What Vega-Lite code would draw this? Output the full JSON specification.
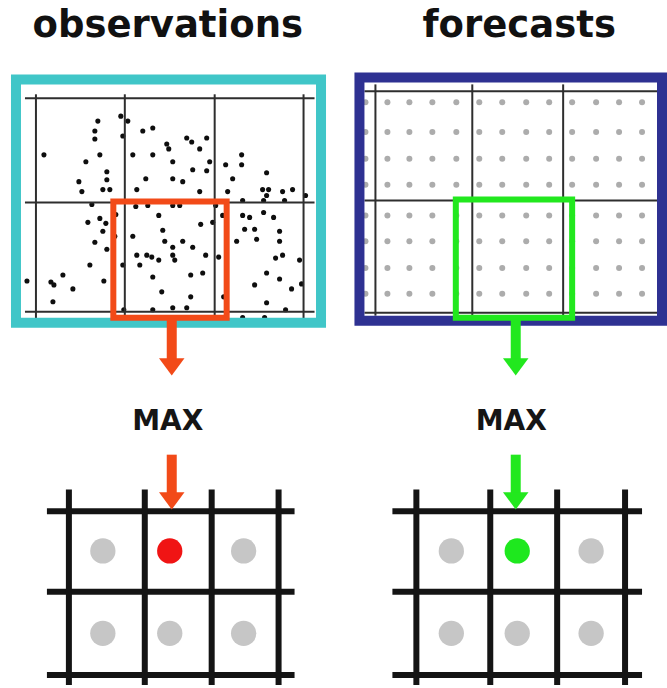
{
  "$schema": "https://vega.github.io/schema/vega-lite/v6.json",
  "width": 667,
  "height": 688,
  "autosize": {"type": "fit", "contains": "padding"},
  "padding": 0,
  "background": "white",
  "config": {"view": {"stroke": null}},
  "datasets": {
    "fcdots": [
      {"x":366,"y":103},{"x":388,"y":103},{"x":410,"y":103},{"x":433,"y":103},{"x":457,"y":103},{"x":480,"y":103},{"x":503,"y":103},{"x":527,"y":103},{"x":550,"y":103},{"x":573,"y":103},{"x":597,"y":103},{"x":620,"y":103},{"x":643,"y":103},
      {"x":366,"y":133},{"x":388,"y":133},{"x":410,"y":133},{"x":433,"y":133},{"x":457,"y":133},{"x":480,"y":133},{"x":503,"y":133},{"x":527,"y":133},{"x":550,"y":133},{"x":573,"y":133},{"x":597,"y":133},{"x":620,"y":133},{"x":643,"y":133},
      {"x":366,"y":160},{"x":388,"y":160},{"x":410,"y":160},{"x":433,"y":160},{"x":457,"y":160},{"x":480,"y":160},{"x":503,"y":160},{"x":527,"y":160},{"x":550,"y":160},{"x":573,"y":160},{"x":597,"y":160},{"x":620,"y":160},{"x":643,"y":160},
      {"x":366,"y":186},{"x":388,"y":186},{"x":410,"y":186},{"x":433,"y":186},{"x":457,"y":186},{"x":480,"y":186},{"x":503,"y":186},{"x":527,"y":186},{"x":550,"y":186},{"x":573,"y":186},{"x":597,"y":186},{"x":620,"y":186},{"x":643,"y":186},
      {"x":366,"y":217},{"x":388,"y":217},{"x":410,"y":217},{"x":433,"y":217},{"x":457,"y":217},{"x":480,"y":217},{"x":503,"y":217},{"x":527,"y":217},{"x":550,"y":217},{"x":573,"y":217},{"x":597,"y":217},{"x":620,"y":217},{"x":643,"y":217},
      {"x":366,"y":243},{"x":388,"y":243},{"x":410,"y":243},{"x":433,"y":243},{"x":457,"y":243},{"x":480,"y":243},{"x":503,"y":243},{"x":527,"y":243},{"x":550,"y":243},{"x":573,"y":243},{"x":597,"y":243},{"x":620,"y":243},{"x":643,"y":243},
      {"x":366,"y":270},{"x":388,"y":270},{"x":410,"y":270},{"x":433,"y":270},{"x":457,"y":270},{"x":480,"y":270},{"x":503,"y":270},{"x":527,"y":270},{"x":550,"y":270},{"x":573,"y":270},{"x":597,"y":270},{"x":620,"y":270},{"x":643,"y":270},
      {"x":366,"y":296},{"x":388,"y":296},{"x":410,"y":296},{"x":433,"y":296},{"x":457,"y":296},{"x":480,"y":296},{"x":503,"y":296},{"x":527,"y":296},{"x":550,"y":296},{"x":573,"y":296},{"x":597,"y":296},{"x":620,"y":296},{"x":643,"y":296}
    ],
    "obsdots": [
      {"x":44,"y":156},{"x":98,"y":122},{"x":95,"y":132},{"x":95,"y":140},{"x":100,"y":156},{"x":86,"y":163},{"x":107,"y":173},{"x":79,"y":183},{"x":107,"y":181},{"x":82,"y":193},{"x":103,"y":191},{"x":110,"y":191},{"x":121,"y":117},{"x":123,"y":137},{"x":92,"y":206},
      {"x":128,"y":122},{"x":143,"y":132},{"x":153,"y":129},{"x":133,"y":156},{"x":153,"y":156},{"x":167,"y":145},{"x":169,"y":150},{"x":173,"y":163},{"x":187,"y":139},{"x":192,"y":143},{"x":200,"y":150},{"x":207,"y":139},{"x":210,"y":163},{"x":193,"y":171},{"x":207,"y":172},{"x":146,"y":180},{"x":173,"y":180},{"x":183,"y":183},{"x":137,"y":191},{"x":200,"y":193},
      {"x":226,"y":166},{"x":242,"y":156},{"x":242,"y":166},{"x":233,"y":180},{"x":267,"y":174},{"x":228,"y":193},{"x":263,"y":191},{"x":269,"y":191},{"x":267,"y":197},{"x":283,"y":193},{"x":293,"y":191},{"x":243,"y":202},{"x":264,"y":202},{"x":285,"y":202},{"x":306,"y":197},
      {"x":27,"y":283},{"x":51,"y":284},{"x":54,"y":287},{"x":63,"y":277},{"x":73,"y":291},{"x":53,"y":304},{"x":90,"y":267},{"x":104,"y":283},{"x":88,"y":224},{"x":100,"y":220},{"x":106,"y":225},{"x":103,"y":233},{"x":95,"y":244},{"x":107,"y":251},{"x":123,"y":267},{"x":116,"y":216},{"x":115,"y":238},
      {"x":136,"y":208},{"x":148,"y":207},{"x":173,"y":207},{"x":180,"y":207},{"x":159,"y":217},{"x":133,"y":238},{"x":163,"y":232},{"x":165,"y":243},{"x":173,"y":249},{"x":183,"y":243},{"x":193,"y":249},{"x":137,"y":257},{"x":147,"y":257},{"x":152,"y":259},{"x":159,"y":262},{"x":140,"y":267},{"x":173,"y":257},{"x":175,"y":262},{"x":206,"y":257},{"x":201,"y":226},{"x":213,"y":224},{"x":153,"y":279},{"x":191,"y":277},{"x":203,"y":275},{"x":162,"y":294},{"x":191,"y":299},{"x":153,"y":312},{"x":173,"y":310},{"x":187,"y":310},{"x":219,"y":259},{"x":216,"y":207},{"x":124,"y":312},{"x":223,"y":217},{"x":224,"y":299},
      {"x":243,"y":217},{"x":250,"y":219},{"x":264,"y":214},{"x":274,"y":219},{"x":245,"y":231},{"x":255,"y":231},{"x":280,"y":233},{"x":257,"y":241},{"x":280,"y":243},{"x":237,"y":243},{"x":276,"y":260},{"x":283,"y":257},{"x":300,"y":262},{"x":267,"y":275},{"x":280,"y":281},{"x":255,"y":287},{"x":292,"y":291},{"x":302,"y":286},{"x":267,"y":305},{"x":286,"y":312},{"x":243,"y":320},{"x":265,"y":320}
    ],
    "thinlines": [
      {"x":25,"x2":315,"y":99,"y2":99},{"x":25,"x2":315,"y":204,"y2":204},{"x":25,"x2":315,"y":314,"y2":314},
      {"x":36,"x2":36,"y":95,"y2":321},{"x":125,"x2":125,"y":95,"y2":321},{"x":215,"x2":215,"y":95,"y2":321},{"x":304,"x2":304,"y":95,"y2":321},
      {"x":365,"x2":665,"y":92,"y2":92},{"x":365,"x2":665,"y":202,"y2":202},{"x":365,"x2":665,"y":315,"y2":315},
      {"x":376,"x2":376,"y":85,"y2":318},{"x":473,"x2":473,"y":85,"y2":318},{"x":564,"x2":564,"y":85,"y2":318},{"x":661,"x2":661,"y":85,"y2":318}
    ],
    "thicklines": [
      {"x":47,"x2":295,"y":515,"y2":515},{"x":47,"x2":295,"y":596,"y2":596},{"x":47,"x2":295,"y":680,"y2":680},
      {"x":69,"x2":69,"y":493,"y2":690},{"x":145,"x2":145,"y":493,"y2":690},{"x":212,"x2":212,"y":493,"y2":690},{"x":279,"x2":279,"y":493,"y2":690},
      {"x":393,"x2":643,"y":515,"y2":515},{"x":393,"x2":643,"y":596,"y2":596},{"x":393,"x2":643,"y":680,"y2":680},
      {"x":417,"x2":417,"y":493,"y2":690},{"x":491,"x2":491,"y":493,"y2":690},{"x":558,"x2":558,"y":493,"y2":690},{"x":626,"x2":626,"y":493,"y2":690}
    ],
    "frames": [
      {"panel":"observations","x":16,"x2":321.5,"y":80,"y2":325},
      {"panel":"forecasts","x":360,"x2":663,"y":78,"y2":323}
    ],
    "windows": [
      {"panel":"observations","x":113.5,"x2":227,"y":203,"y2":320},
      {"panel":"forecasts","x":456.5,"x2":573,"y":201,"y2":320}
    ],
    "shafts": [
      {"panel":"observations","x":172,"y":321,"y2":362},
      {"panel":"observations","x":172,"y":458,"y2":499},
      {"panel":"forecasts","x":516.5,"y":322,"y2":362},
      {"panel":"forecasts","x":516.5,"y":458,"y2":499}
    ],
    "heads": [
      {"panel":"observations","x":172,"y":369.5},
      {"panel":"observations","x":172,"y":504.5},
      {"panel":"forecasts","x":516.5,"y":369.5},
      {"panel":"forecasts","x":516.5,"y":504.5}
    ],
    "griddots": [
      {"panel":"observations","x":103,"y":555,"max":"no"},{"panel":"observations","x":170,"y":555,"max":"yes"},{"panel":"observations","x":244,"y":555,"max":"no"},
      {"panel":"observations","x":103,"y":638,"max":"no"},{"panel":"observations","x":170,"y":638,"max":"no"},{"panel":"observations","x":244,"y":638,"max":"no"},
      {"panel":"forecasts","x":452,"y":555,"max":"no"},{"panel":"forecasts","x":518,"y":555,"max":"yes"},{"panel":"forecasts","x":592,"y":555,"max":"no"},
      {"panel":"forecasts","x":452,"y":638,"max":"no"},{"panel":"forecasts","x":518,"y":638,"max":"no"},{"panel":"forecasts","x":592,"y":638,"max":"no"}
    ],
    "titles": [
      {"label":"observations","x":168,"y":37},
      {"label":"forecasts","x":520,"y":37}
    ],
    "maxlabels": [
      {"label":"MAX","x":168,"y":433},
      {"label":"MAX","x":512,"y":433}
    ]
  },
  "layer": [
    {
      "data": {"name": "fcdots"},
      "mark": {"type": "point", "shape": "circle", "filled": true, "size": 36, "color": "#acacac", "opacity": 1},
      "encoding": {
        "x": {"field": "x", "type": "quantitative", "scale": {"domain": [0, 667], "nice": false, "zero": false}, "axis": null},
        "y": {"field": "y", "type": "quantitative", "scale": {"domain": [0, 688], "nice": false, "zero": false, "reverse": true}, "axis": null}
      }
    },
    {
      "data": {"name": "obsdots"},
      "mark": {"type": "point", "shape": "circle", "filled": true, "size": 26, "color": "#0e0e0e", "opacity": 1},
      "encoding": {
        "x": {"field": "x", "type": "quantitative"},
        "y": {"field": "y", "type": "quantitative"}
      }
    },
    {
      "data": {"name": "thinlines"},
      "mark": {"type": "rule", "color": "#2e2e2e", "strokeWidth": 2},
      "encoding": {
        "x": {"field": "x", "type": "quantitative"},
        "x2": {"field": "x2"},
        "y": {"field": "y", "type": "quantitative"},
        "y2": {"field": "y2"}
      }
    },
    {
      "data": {"name": "frames"},
      "mark": {"type": "rect", "filled": false, "strokeWidth": 10},
      "encoding": {
        "x": {"field": "x", "type": "quantitative"},
        "x2": {"field": "x2"},
        "y": {"field": "y", "type": "quantitative"},
        "y2": {"field": "y2"},
        "stroke": {"field": "panel", "type": "nominal", "scale": {"domain": ["observations", "forecasts"], "range": ["#40c6c8", "#2e3192"]}, "legend": null}
      }
    },
    {
      "data": {"name": "thicklines"},
      "mark": {"type": "rule", "color": "#141414", "strokeWidth": 6},
      "encoding": {
        "x": {"field": "x", "type": "quantitative"},
        "x2": {"field": "x2"},
        "y": {"field": "y", "type": "quantitative"},
        "y2": {"field": "y2"}
      }
    },
    {
      "data": {"name": "griddots"},
      "mark": {"type": "point", "shape": "circle", "filled": true, "size": 640, "opacity": 1},
      "encoding": {
        "x": {"field": "x", "type": "quantitative"},
        "y": {"field": "y", "type": "quantitative"},
        "color": {
          "condition": [
            {"test": "datum.max === 'yes' && datum.panel === 'observations'", "value": "#f01414"},
            {"test": "datum.max === 'yes' && datum.panel === 'forecasts'", "value": "#1ee81e"}
          ],
          "value": "#c6c6c6"
        }
      }
    },
    {
      "data": {"name": "windows"},
      "mark": {"type": "rect", "filled": false, "strokeWidth": 6},
      "encoding": {
        "x": {"field": "x", "type": "quantitative"},
        "x2": {"field": "x2"},
        "y": {"field": "y", "type": "quantitative"},
        "y2": {"field": "y2"},
        "stroke": {"field": "panel", "type": "nominal", "scale": {"domain": ["observations", "forecasts"], "range": ["#f24a18", "#22e81e"]}, "legend": null}
      }
    },
    {
      "data": {"name": "shafts"},
      "mark": {"type": "rule", "strokeWidth": 10},
      "encoding": {
        "x": {"field": "x", "type": "quantitative"},
        "y": {"field": "y", "type": "quantitative"},
        "y2": {"field": "y2"},
        "color": {
          "condition": {"test": "datum.panel === 'observations'", "value": "#f24a18"},
          "value": "#22e81e"
        }
      }
    },
    {
      "data": {"name": "heads"},
      "mark": {"type": "point", "shape": "M-1,-0.68L1,-0.68L0,0.68Z", "filled": true, "size": 650, "opacity": 1},
      "encoding": {
        "x": {"field": "x", "type": "quantitative"},
        "y": {"field": "y", "type": "quantitative"},
        "color": {
          "condition": {"test": "datum.panel === 'observations'", "value": "#f24a18"},
          "value": "#22e81e"
        }
      }
    },
    {
      "data": {"name": "titles"},
      "mark": {"type": "text", "font": "DejaVu Sans", "fontWeight": "bold", "fontSize": 37, "align": "center", "baseline": "alphabetic", "color": "#111111"},
      "encoding": {
        "x": {"field": "x", "type": "quantitative"},
        "y": {"field": "y", "type": "quantitative"},
        "text": {"field": "label"}
      }
    },
    {
      "data": {"name": "maxlabels"},
      "mark": {"type": "text", "font": "DejaVu Sans", "fontWeight": "bold", "fontSize": 28, "align": "center", "baseline": "alphabetic", "color": "#151515"},
      "encoding": {
        "x": {"field": "x", "type": "quantitative"},
        "y": {"field": "y", "type": "quantitative"},
        "text": {"field": "label"}
      }
    }
  ],
  "resolve": {"scale": {"stroke": "independent"}}
}
